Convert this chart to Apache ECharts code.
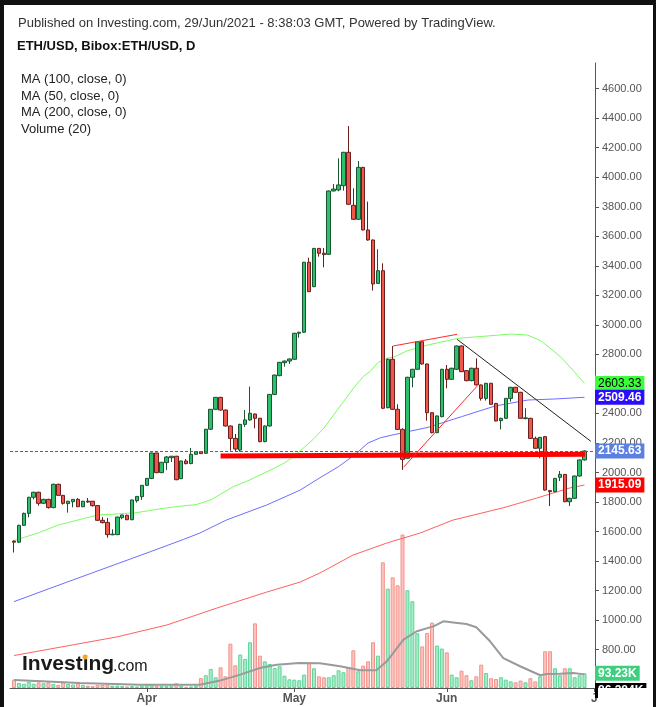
<!DOCTYPE html>
<html><head><meta charset="utf-8">
<script src="https://cdn.jsdelivr.net/npm/echarts@6/dist/echarts.min.js"></script>
<style>html,body{margin:0;padding:0;background:#fff}#c{width:656px;height:707px}</style>
</head><body><div id="c"></div>
<script>
// ---- DATA (daily candles, 5 Mar 2021 = index 0 ... 29 Jun 2021 = index 116) ----
const opens = [1535,1528,1642,1723,1832,1866,1791,1818,1762,1920,
1845,1789,1802,1818,1768,1806,1805,1776,1676,1662,
1578,1579,1694,1710,1680,1809,1836,1913,1960,2132,
1999,2067,2100,2110,1958,2078,2060,2123,2141,2130,
2293,2428,2509,2423,2315,2231,2152,2326,2356,2396,
2367,2209,2315,2529,2656,2744,2755,2767,2943,2950,
3424,3259,3518,3485,3478,3907,3914,3943,4169,3810,
3715,4067,3643,3575,3281,3367,2439,2767,2428,2292,
2096,2645,2699,2886,2735,2405,2270,2378,2699,2631,
2699,2857,2690,2622,2706,2593,2502,2604,2468,2351,
2367,2502,2577,2543,2365,2367,2231,2164,2243,1877,
1870,1967,1987,1802,1825,1976,2085];
const closes = [1528,1642,1723,1832,1866,1791,1818,1762,1920,1845,
1791,1805,1818,1768,1805,1800,1775,1676,1660,1579,
1582,1698,1712,1680,1814,1838,1913,1960,2132,1999,
2069,2105,2110,1951,2078,2060,2123,2141,2128,2293,
2428,2509,2423,2315,2231,2159,2326,2356,2401,2367,
2209,2315,2529,2660,2746,2755,2769,2943,2950,3424,
3225,3518,3485,3476,3907,3920,3948,4169,3817,3715,
4067,3643,3575,3277,3367,2435,2767,2428,2292,2089,
2645,2699,2886,2735,2405,2270,2383,2699,2631,2706,
2857,2683,2622,2706,2593,2502,2604,2462,2349,2367,
2502,2577,2543,2367,2370,2231,2164,2238,1881,1870,
1960,1987,1802,1825,1976,2085,2145.63];
const lows = [1458,1522,1638,1696,1818,1775,1787,1755,1758,1843,
1782,1728,1764,1766,1765,1795,1769,1672,1655,1558,
1575,1576,1683,1677,1677,1796,1814,1908,1955,1995,
1995,2017,2071,1948,1955,2055,2057,2120,2125,2126,
2288,2424,2420,2311,2148,2145,2141,2309,2350,2299,
2205,2205,2311,2525,2652,2717,2735,2763,2913,2946,
3222,3255,3462,3390,3474,3904,3905,3909,3812,3710,
3712,3640,3570,3232,3278,2430,2435,2424,2288,2017,
2092,2577,2695,2730,2351,2265,2266,2374,2570,2627,
2695,2680,2618,2618,2590,2487,2487,2459,2346,2292,
2363,2480,2540,2363,2360,2228,2161,2096,1877,1773,
1866,1942,1799,1773,1821,1972,2081];
const highs = [1540,1646,1728,1835,1870,1870,1822,1822,1924,1924,
1848,1808,1820,1827,1808,1827,1808,1778,1698,1692,
1615,1700,1714,1714,1816,1840,1915,1963,2134,2134,
2071,2112,2112,2113,2080,2091,2166,2143,2144,2295,
2430,2511,2512,2426,2318,2261,2330,2423,2581,2400,
2370,2318,2532,2663,2749,2758,2772,2946,2953,3427,
3455,3521,3521,3521,3910,3954,4128,4172,4347,3925,
4110,4070,3835,3579,3512,3417,2772,2857,2462,2300,
2648,2702,2889,2889,2738,2408,2386,2702,2728,2710,
2860,2860,2693,2710,2773,2596,2607,2607,2471,2371,
2505,2580,2580,2546,2435,2370,2243,2241,2246,1880,
1963,2010,1990,1828,1979,2088,2150];
// volume in thousands
const volumes = [53,32,27,40,27,36,30,36,25,20,36,25,22,30,20,15,12,20,20,22,15,15,12,10,12,10,15,18,18,15,15,12,15,30,15,8,10,15,
63,81,121,68,131,74,281,144,212,184,290,410,205,169,152,127,138,78,55,53,49,85,159,125,
74,68,68,81,112,100,133,239,106,142,169,290,205,797,630,702,651,973,620,550,347,264,349,415,269,250,226,85,68,110,81,49,74,148,95,62,57,68,53,42,36,47,36,62,42,74,233,233,125,81,125,125,68,81,93.23];
// moving averages: [dayIndex, value]
const ma50Pts = [[0,1538],[5,1592],[9,1644],[13,1678],[17,1712],[21,1719],[25,1728],[29,1750],[33,1769],[37,1782],[40,1814],[44.6,1904],[48,1950],[50,1983],[53,2030],[55,2065],[57,2110],[59,2170],[61,2230],[63,2300],[65,2390],[67,2480],[69,2570],[71,2650],[72.4,2683],[74,2745],[76,2775],[77.5,2785],[80,2825],[84.2,2864],[90.3,2909],[96.4,2925],[101,2938],[104.4,2931],[107.1,2893],[111.1,2785],[114,2680],[116,2603.33]];
const ma100Pts = [[0,1125],[7.3,1215],[17.5,1339],[27.7,1463],[34.5,1547],[37.8,1590],[43.2,1678],[51.4,1780],[58.2,1881],[62,1960],[66,2040],[69.3,2120],[72,2200],[74.5,2235],[77.5,2258],[84.2,2306],[91,2378],[97.8,2450],[104.5,2491],[110,2498],[116,2509.46]];
const ma200Pts = [[0,760],[10.8,825],[20.9,886],[31.1,967],[41.3,1082],[51.4,1190],[58.2,1258],[62.2,1319],[68.9,1440],[75.8,1522],[82.6,1590],[89.3,1678],[99.4,1760],[106.3,1827],[113,1895],[116,1915.09]];
const volMaPts = [[0,51],[13.4,32],[25.6,21],[37.8,21],[41.9,47],[46,85],[50,127],[53.4,148],[58,159],[62.2,157],[66.3,138],[70.4,112],[73.7,112],[75.8,169],[79.2,307],[81.9,360],[85.3,391],[87.3,423],[89.3,416],[92,406],[94,385],[96.8,296],[99.5,190],[102.9,138],[107,81],[108.3,89],[111,91],[113.7,95],[116,86.384]];
// drawn annotations
const supportLine = [[42,2112],[116.1,2124]];
const trendLine = [[90.1,2902],[117.3,2211]];
const channelTop = [[77.1,2857],[90.1,2936]];
const channelLow = [[79.2,2035],[94.2,2586]];
// axes
const xTickPos = [27,57,88,118];
const xTickLabels = ['Apr','May','Jun','J'];
const yTicks = [800,1000,1200,1400,1600,1800,2000,2200,2400,2600,2800,3000,3200,3400,3600,3800,4000,4200,4400,4600];
const lastPrice = 2145.63, lastMa50 = 2603.33, lastMa100 = 2509.46, lastMa200 = 1915.09, lastVol = 93.23, lastVolMa = 86.384;

// ---- CHART ----
const F = '"Liberation Sans", Arial, Helvetica, sans-serif';
const chart = echarts.init(document.getElementById('c'));
const candleData = opens.map((o,i)=>[i,o,closes[i],lows[i],highs[i]]);
const volData = volumes.map((v,i)=>({value:[i,v], itemStyle: closes[i]>=opens[i]
  ? {color:'#a6ecc6', borderColor:'#5fd49a', borderWidth:1}
  : {color:'#fcc3be', borderColor:'#f3948c', borderWidth:1}}));
function tag(v, text, bg, fg, extra){
  return {silent:true, symbol:'none', animation:false,
    lineStyle:{color:'rgba(0,0,0,0)', width:1, type:'solid'},
    data:[{yAxis:v}],
    label:Object.assign({show:true, position:'end', distance:0, formatter:text, backgroundColor:bg, color:fg,
      fontFamily:F, fontSize:12, fontWeight:'bold', padding:[2,3,1,3]}, extra||{})};
}
function seg(data, color, width, z){
  return {type:'line', data:data, symbol:'none', silent:true, z:z||5, lineStyle:{color:color, width:width}, itemStyle:{color:color}};
}
const option = {
  animation:false,
  backgroundColor:'#fff',
  grid:{left:10, right:61, top:63, bottom:19},
  xAxis:{type:'value', min:-0.813, max:118.14,
    axisLine:{show:true, onZero:false, lineStyle:{color:'#555'}},
    axisTick:{show:true, customValues:xTickPos, length:4, lineStyle:{color:'#555'}},
    axisLabel:{customValues:xTickPos, formatter:(v)=>xTickLabels[xTickPos.indexOf(v)]||'', color:'#555', fontFamily:F, fontSize:12, fontWeight:'bold', margin:5},
    splitLine:{show:false}},
  yAxis:[
    {type:'value', position:'right', min:540, max:4774,
     axisLine:{show:true, onZero:false, lineStyle:{color:'#555'}},
     axisTick:{show:true, customValues:yTicks, length:4, lineStyle:{color:'#555'}},
     axisLabel:{customValues:yTicks, formatter:(v)=>v.toFixed(2), color:'#555', fontFamily:F, fontSize:11, margin:7},
     splitLine:{show:false}},
    {type:'value', min:0, max:3963, show:false, splitLine:{show:false}}
  ],
  series:[
    {type:'bar', yAxisIndex:1, data:volData, barWidth:4, z:1, silent:true,
     markLine:tag(lastVol,'93.23K','#3ecf7e','#fff')},
    Object.assign(seg(volMaPts,'#9a9a9a',2,2), {yAxisIndex:1,
     markLine:tag(lastVolMa,'86.384K','#000','#fff',{offset:[0,16]})}),
    Object.assign(seg(ma50Pts,'#7dfc63',1,3), {markLine:tag(lastMa50,'2603.33','#3cff3c','#000',{fontWeight:'normal'})}),
    Object.assign(seg(ma100Pts,'#6e6eff',1,3), {markLine:tag(lastMa100,'2509.46','#2a0cff','#fff')}),
    Object.assign(seg(ma200Pts,'#ff6060',1,3), {markLine:tag(lastMa200,'1915.09','#ff0000','#fff')}),
    {type:'candlestick', data:candleData, encode:{x:0, y:[1,2,3,4]}, barWidth:4, z:4, silent:true,
     itemStyle:{color:'#2dbf6c', color0:'#f0564a', borderColor:'#1b5430', borderColor0:'#6b1f1f', borderWidth:1},
     markLine:{silent:true, symbol:'none', animation:false, data:[{yAxis:lastPrice}],
       lineStyle:{color:'#3a5fd0', type:[3,2], width:1},
       label:{show:true, position:'end', distance:0, formatter:'2145.63', backgroundColor:'#5b80e2', color:'#fff', fontFamily:F, fontSize:12, fontWeight:'bold', padding:[2,3,1,3]}}},
    seg(supportLine,'#ff0000',5,6),
    seg(trendLine,'#222',1,6),
    seg(channelTop,'#ff2a2a',1,6),
    seg(channelLow,'#ff2a2a',1,6)
  ],
  graphic:[
    {type:'rect', shape:{x:598,y:688,width:55,height:19}, style:{fill:'#fff'}, z:100},
    {type:'rect', shape:{x:0,y:0,width:656,height:5}, style:{fill:'#111'}, z:101},
    {type:'rect', shape:{x:0,y:0,width:4,height:707}, style:{fill:'#111'}, z:101},
    {type:'rect', shape:{x:653,y:0,width:3,height:707}, style:{fill:'#111'}, z:101},
    {type:'text', x:18, y:23, style:{text:'Published on Investing.com, 29/Jun/2021 - 8:38:03 GMT, Powered by TradingView.', font:'13px '+F, fill:'#333', textVerticalAlign:'middle'}, z:101},
    {type:'text', x:17, y:46, style:{text:'ETH/USD, Bibox:ETH/USD, D', font:'bold 13px '+F, fill:'#111', textVerticalAlign:'middle'}, z:101},
    {type:'text', x:21, y:79, style:{text:'MA (100, close, 0)', font:'13px '+F, fill:'#222', textVerticalAlign:'middle'}, z:101},
    {type:'text', x:21, y:96, style:{text:'MA (50, close, 0)', font:'13px '+F, fill:'#222', textVerticalAlign:'middle'}, z:101},
    {type:'text', x:21, y:112, style:{text:'MA (200, close, 0)', font:'13px '+F, fill:'#222', textVerticalAlign:'middle'}, z:101},
    {type:'text', x:21, y:129, style:{text:'Volume (20)', font:'13px '+F, fill:'#222', textVerticalAlign:'middle'}, z:101},
    {type:'text', x:22, y:664, style:{text:'Investing', font:'bold 21px '+F, fill:'#1a1a1a', textVerticalAlign:'middle'}, z:101},
    {type:'text', x:113, y:667, style:{text:'.com', font:'16px '+F, fill:'#1a1a1a', textVerticalAlign:'middle'}, z:101},
    {type:'circle', shape:{cx:85, cy:657, r:2.5}, style:{fill:'#f5a623'}, z:102}
  ]
};
chart.setOption(option);
</script></body></html>
